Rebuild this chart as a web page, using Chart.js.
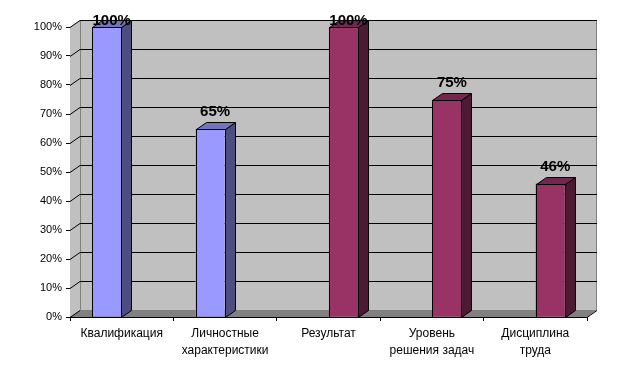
<!DOCTYPE html>
<html>
<head>
<meta charset="utf-8">
<script src="https://cdn.jsdelivr.net/npm/chart.js@4/dist/chart.umd.min.js"></script>
<style>
html,body{margin:0;padding:0;background:#fff;}
canvas{display:block;}
</style>
</head>
<body>
<canvas id="c" width="625" height="367"></canvas>
<script>
const categories = [["Квалификация"], ["Личностные", "характеристики"], ["Результат"], ["Уровень", "решения задач"], ["Дисциплина", "труда"]];
const seriesA = [100, 65, null, null, null];
const seriesB = [null, null, 100, 75, 46];
const yTicks = [0, 10, 20, 30, 40, 50, 60, 70, 80, 90, 100];

const DX = 10, DY = -7;
const shades = {
  '#9999FF': {side: '#4D4D80', top: '#7373C0'},
  '#993366': {side: '#4D1A33', top: '#732650'}
};

const wallPlugin = {
  id: 'wall',
  beforeDatasetsDraw(chart) {
    const ctx = chart.ctx, a = chart.chartArea, y = chart.scales.y;
    const L = a.left, R = a.right, T = y.getPixelForValue(100), B = y.getPixelForValue(0);
    ctx.save();
    ctx.fillStyle = '#C0C0C0';
    ctx.beginPath();
    ctx.moveTo(L, T); ctx.lineTo(L + DX, T + DY); ctx.lineTo(L + DX, B + DY); ctx.lineTo(L, B); ctx.closePath();
    ctx.fill();
    ctx.fillRect(L + DX, T + DY, R - L, B - T);
    ctx.strokeStyle = '#808080'; ctx.lineWidth = 1;
    ctx.beginPath();
    ctx.moveTo(L + DX + 0.5, B + DY); ctx.lineTo(L + DX + 0.5, T + DY + 0.5);
    ctx.lineTo(R + DX - 0.5, T + DY + 0.5); ctx.lineTo(R + DX - 0.5, B + DY);
    ctx.stroke();
    ctx.fillStyle = '#808080';
    ctx.beginPath();
    ctx.moveTo(L, B); ctx.lineTo(L + DX, B + DY); ctx.lineTo(R + DX, B + DY); ctx.lineTo(R, B); ctx.closePath();
    ctx.fill();
    ctx.strokeStyle = '#000'; ctx.lineWidth = 1;
    yTicks.forEach(v => {
      const py = Math.round(y.getPixelForValue(v)) + 0.5;
      ctx.beginPath();
      ctx.moveTo(L, py); ctx.lineTo(L + DX, py + DY);
      if (v > 0) ctx.lineTo(R + DX, py + DY);
      ctx.stroke();
    });
    ctx.beginPath();
    ctx.moveTo(R, B + 0.5); ctx.lineTo(R + DX, B + DY + 0.5);
    ctx.stroke();
    ctx.restore();
  },
  afterDatasetsDraw(chart) {
    const ctx = chart.ctx;
    ctx.save();
    ctx.strokeStyle = '#000'; ctx.lineWidth = 1;
    chart.data.datasets.forEach((ds, di) => {
      const meta = chart.getDatasetMeta(di);
      const sh = shades[ds.backgroundColor];
      meta.data.forEach((bar, i) => {
        if (ds.data[i] == null) return;
        const l = Math.round(bar.x - bar.width / 2) + 0.5, r = Math.round(bar.x + bar.width / 2) + 0.5;
        const t = Math.round(bar.y) + 0.5, b = Math.round(bar.base) + 0.5;
        ctx.fillStyle = sh.side;
        ctx.beginPath();
        ctx.moveTo(r, t); ctx.lineTo(r + DX, t + DY); ctx.lineTo(r + DX, b + DY); ctx.lineTo(r, b); ctx.closePath();
        ctx.fill(); ctx.stroke();
        ctx.fillStyle = sh.top;
        ctx.beginPath();
        ctx.moveTo(l, t); ctx.lineTo(l + DX, t + DY); ctx.lineTo(r + DX, t + DY); ctx.lineTo(r, t); ctx.closePath();
        ctx.fill(); ctx.stroke();
        ctx.strokeRect(l, t, r - l, b - t);
      });
    });
    ctx.fillStyle = '#000';
    ctx.font = 'bold 15px "Liberation Sans", Arial, sans-serif';
    ctx.textAlign = 'center';
    ctx.textBaseline = 'alphabetic';
    chart.data.datasets.forEach((ds, di) => {
      const meta = chart.getDatasetMeta(di);
      meta.data.forEach((bar, i) => {
        const v = ds.data[i];
        if (v == null) return;
        let by = bar.y + DY - 6;
        if (by < 25) by = 25;
        ctx.fillText(v + '%', bar.x + DX / 2, by);
      });
    });
    ctx.restore();
  }
};

new Chart(document.getElementById('c'), {
  type: 'bar',
  data: {
    labels: categories,
    datasets: [
      {data: seriesA, backgroundColor: '#9999FF', borderWidth: 0},
      {data: seriesB, backgroundColor: '#993366', borderWidth: 0}
    ]
  },
  options: {
    responsive: false,
    animation: false,
    events: [],
    layout: {padding: {top: 27, right: 38, left: 0, bottom: 0}},
    datasets: {bar: {categoryPercentage: 0.58, barPercentage: 0.97, grouped: true}},
    plugins: {legend: {display: false}, tooltip: {enabled: false}},
    scales: {
      x: {
        grid: {display: true, drawOnChartArea: false, drawTicks: true, tickLength: 4, color: '#000', offset: true},
        border: {display: true, color: '#000'},
        ticks: {color: '#000', font: {family: '"Liberation Sans", Arial, sans-serif', size: 12, lineHeight: 1.4}, padding: 4, maxRotation: 0, autoSkip: false},
        afterFit(s) { s.height = 50; }
      },
      y: {
        min: 0, max: 100,
        grid: {display: true, drawOnChartArea: false, drawTicks: true, tickLength: 4, color: '#000'},
        border: {display: true, color: '#000'},
        ticks: {stepSize: 10, color: '#000', padding: 4, font: {family: '"Liberation Sans", Arial, sans-serif', size: 11}, callback: v => v + '%'},
        afterFit(s) { s.width = 70; }
      }
    }
  },
  plugins: [wallPlugin]
});
</script>
</body>
</html>
